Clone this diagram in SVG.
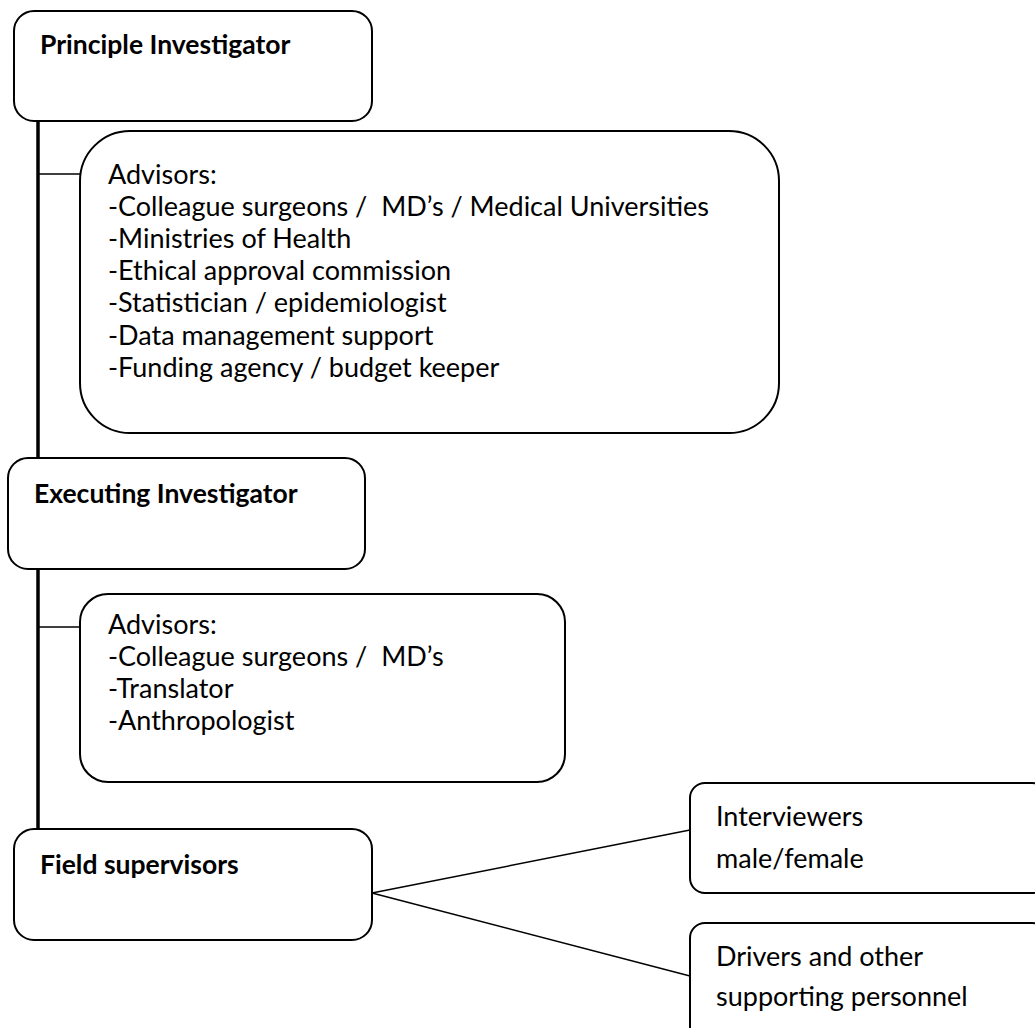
<svg xmlns="http://www.w3.org/2000/svg" width="1035" height="1028" viewBox="0 0 1035 1028">
<style>
.box{fill:#fff;stroke:#000;stroke-width:2}
.t{font-family:Lato,"Liberation Sans",sans-serif;font-size:27px;fill:#000;white-space:pre}
.b{font-family:Lato,"Liberation Sans",sans-serif;font-size:26.5px;font-weight:bold;fill:#000}
.c{stroke:#000;fill:none}
</style>
<rect width="1035" height="1028" fill="#fff"/>
<g id="connectors">
<line class="c" x1="38" y1="120" x2="38" y2="830" stroke-width="3.5"/>
<line class="c" x1="38" y1="174" x2="80" y2="174" stroke-width="1.5"/>
<line class="c" x1="38" y1="627" x2="80" y2="627" stroke-width="1.5"/>
<line class="c" x1="372" y1="893" x2="690" y2="830" stroke-width="1.5"/>
<line class="c" x1="372" y1="893" x2="690" y2="976" stroke-width="1.5"/>
</g>
<g id="principle">
<rect class="box" x="14" y="11" width="358" height="110" rx="20"/>
<text class="b" x="40" y="54">Principle Investigator</text>
</g>
<g id="advisors1">
<rect class="box" x="80" y="131" width="699" height="302" rx="50"/>
<text class="t" x="108" y="184">Advisors:</text>
<text class="t" x="108" y="216" xml:space="preserve">-Colleague surgeons /  MD’s / Medical Universities</text>
<text class="t" x="108" y="248">-Ministries of Health</text>
<text class="t" x="108" y="280">-Ethical approval commission</text>
<text class="t" x="108" y="312">-Statistician / epidemiologist</text>
<text class="t" x="108" y="345">-Data management support</text>
<text class="t" x="108" y="377">-Funding agency / budget keeper</text>
</g>
<g id="executing">
<rect class="box" x="8" y="458" width="357" height="111" rx="20"/>
<text class="b" x="34" y="503">Executing Investigator</text>
</g>
<g id="advisors2">
<rect class="box" x="80" y="594" width="485" height="188" rx="28"/>
<text class="t" x="108" y="634">Advisors:</text>
<text class="t" x="108" y="666" xml:space="preserve">-Colleague surgeons /  MD’s</text>
<text class="t" x="108" y="698">-Translator</text>
<text class="t" x="108" y="730">-Anthropologist</text>
</g>
<g id="field">
<rect class="box" x="14" y="829" width="358" height="111" rx="20"/>
<text class="b" x="40" y="874">Field supervisors</text>
</g>
<g id="interviewers">
<rect class="box" x="690" y="783" width="357" height="110" rx="15"/>
<text class="t" x="716" y="826">Interviewers</text>
<text class="t" x="716" y="868">male/female</text>
</g>
<g id="drivers">
<rect class="box" x="690" y="923" width="357" height="125" rx="15"/>
<text class="t" x="716" y="966">Drivers and other</text>
<text class="t" x="716" y="1006">supporting personnel</text>
</g>
</svg>
